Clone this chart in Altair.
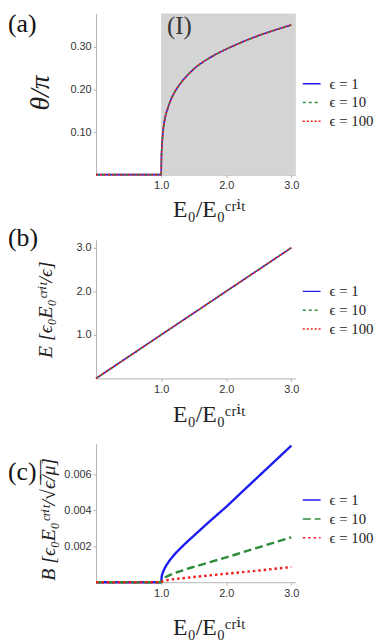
import altair as alt
import pandas as pd

SERIF = "'Liberation Serif', 'DejaVu Serif', serif"
SANS = "'Liberation Sans', Arial, sans-serif"

# ---------------- data ----------------
series = ["ϵ = 1", "ϵ = 10", "ϵ = 100"]
series_colors = ["#1c1cf0", "#2f8c3c", "#f01c1c"]
x_ticks = [1.0, 2.0, 3.0]
X_MAX = 3.07

# (a) theta/pi vs E0/E0crit (all three eps overlap)
theta_x = [0.0, 0.5, 1.0, 1.005, 1.01, 1.02, 1.03, 1.05, 1.1, 1.15, 1.2, 1.3, 1.4,
           1.5, 1.75, 2.0, 2.25, 2.5, 2.75, 3.0]
theta_y = [0.0, 0.0, 0.0, 0.045, 0.062, 0.085, 0.103, 0.125, 0.155, 0.176, 0.192,
           0.215, 0.233, 0.248, 0.275, 0.295, 0.312, 0.327, 0.340, 0.352]
region_start = [1.0]
region_label = ["(I)"]
region_label_x = [1.28]
region_label_y = [0.349]

# (b) E vs E0/E0crit (all three eps overlap)
field_x = [0.0, 1.0, 2.0, 3.0]
field_y = [0.0, 1.0, 2.0, 3.0]

# (c) B vs E0/E0crit
b_x = [0.0, 0.5, 1.0, 1.01, 1.02, 1.05, 1.1, 1.2, 1.3, 1.4, 1.5, 1.75, 2.0, 2.25,
       2.5, 2.75, 3.0]
b_eps1 = [0.0, 0.0, 0.0, 0.00033, 0.00047, 0.00074, 0.00105, 0.00152, 0.0019,
          0.00225, 0.00258, 0.0034, 0.0042, 0.00505, 0.0059, 0.00675, 0.0076]
b_eps10 = [0.0, 0.0, 0.0, 0.0001, 0.00015, 0.00024, 0.00034, 0.0005, 0.00062,
           0.00074, 0.00085, 0.00112, 0.00138, 0.00166, 0.00194, 0.00222, 0.0025]
b_eps100 = [0.0, 0.0, 0.0, 0.00004, 0.00005, 0.00008, 0.00012, 0.00017, 0.00021,
            0.00025, 0.00029, 0.00038, 0.00047, 0.00056, 0.00065, 0.00075, 0.00084]

# ---------------- tables ----------------
def long_table(xs, ys_list):
    rows = []
    for s, ys in zip(series, ys_list):
        for x, y in zip(xs, ys):
            rows.append({"x": x, "y": y, "eps": s})
    return pd.DataFrame(rows)

df_a = long_table(theta_x, [theta_y, theta_y, theta_y])
df_b = long_table(field_x, [field_y, field_y, field_y])
df_c = long_table(b_x, [b_eps1, b_eps10, b_eps100])

X_TITLE = "E₀/E₀ᶜʳⁱᵗ"


def make_panel(df, y_max, y_vals, y_fmt, y_title, y_title_size, y_title_x,
               y_title_y, height, dash_range, stroke_w, legend_y, x_title_y,
               letter, letter_y, under=None, over=None):
    xs = alt.Scale(domain=[0, X_MAX], nice=False, zero=False)
    ys = alt.Scale(domain=[0, y_max], nice=False, zero=False)
    x_axis = alt.Axis(values=x_ticks, format=".1f", title=X_TITLE, titleFont=SERIF,
                      titleFontSize=24, titleFontWeight="normal", titleX=114,
                      titleY=x_title_y, titleAlign="center", titleBaseline="middle",
                      titleColor="#222")
    y_axis = alt.Axis(values=y_vals, format=y_fmt, title=y_title, titleFont=SERIF,
                      titleFontSize=y_title_size, titleFontWeight="normal",
                      titleFontStyle="italic", titleAngle=270, titleX=y_title_x,
                      titleY=y_title_y, titleAlign="center", titleBaseline="middle",
                      titleColor="#222")
    legend = alt.Legend(title=None, orient="none", legendX=208, legendY=legend_y,
                        symbolType="stroke", symbolSize=324, symbolStrokeWidth=1.5,
                        labelFont=SERIF, labelFontSize=15, labelOffset=8,
                        rowPadding=1, padding=0, labelColor="#222")
    lines = alt.Chart(df).mark_line(strokeWidth=stroke_w, interpolate="monotone").encode(
        x=alt.X("x:Q", scale=xs, axis=x_axis),
        y=alt.Y("y:Q", scale=ys, axis=y_axis),
        color=alt.Color("eps:N", scale=alt.Scale(domain=series, range=series_colors),
                        legend=legend),
        strokeDash=alt.StrokeDash("eps:N", scale=alt.Scale(domain=series, range=dash_range),
                                  legend=legend),
    )
    letter_layer = alt.Chart(pd.DataFrame({"t": [letter]})).mark_text(
        font=SERIF, fontSize=26, align="left", baseline="middle", color="#111"
    ).encode(text="t:N", x=alt.value(-89), y=alt.value(letter_y))
    layers = []
    if under is not None:
        layers.append(under)
    layers.append(lines)
    if over is not None:
        layers.append(over)
    layers.append(letter_layer)
    return alt.layer(*layers).properties(width=202, height=height)


# (a) shaded region I and its label
A_MAX = 0.379
region_df = pd.DataFrame({"x": region_start, "x1": [X_MAX], "y": [0.0], "y1": [A_MAX]})
shade = alt.Chart(region_df).mark_rect(color="#d4d4d4").encode(
    x="x:Q", x2="x1:Q", y="y:Q", y2="y1:Q")
label_df = pd.DataFrame({"t": region_label, "x": region_label_x, "y": region_label_y})
region_text = alt.Chart(label_df).mark_text(
    font=SERIF, fontSize=25, align="center", baseline="middle", color="#333"
).encode(x="x:Q", y="y:Q", text="t:N")

dash_thin = [[1, 0], [3, 3], [2, 2]]
dash_c = [[1, 0], [8, 4], [2.5, 3]]

pa = make_panel(df_a, A_MAX, [0.1, 0.2, 0.3], ".2f", "θ/π", 28, -56, 80, 163,
                dash_thin, 1.6, 61, 35, "(a)", 11, under=shade, over=region_text)
pb = make_panel(df_b, 3.18, [1.0, 2.0, 3.0], ".1f", "E [ϵ₀E₀ᶜʳⁱᵗ/ϵ]", 20, -51, 70,
                140, dash_thin, 1.6, 42, 37, "(b)", -2)
pc = make_panel(df_c, 0.00771, [0.002, 0.004, 0.006], ".3f",
                "B [ϵ₀E₀ᶜʳⁱᵗ/√ϵ\u0305/\u0305μ\u0305]", 20, -48, 76,
                140, dash_c, 2.4, 47, 46, "(c)", 29)

chart = alt.vconcat(pa, pb, pc, spacing=66, bounds="flush").resolve_scale(
    color="independent", strokeDash="independent"
).resolve_legend(
    color="independent", strokeDash="independent"
).properties(padding=0).configure_view(stroke=None).configure_axis(
    domainColor="#b4b4b4", tickColor="#b4b4b4", tickSize=3, labelFont=SANS,
    labelFontSize=11, labelColor="#333", grid=False, labelPadding=2
)

chart.save("out.html", embed_options={"renderer": "svg", "actions": False})
